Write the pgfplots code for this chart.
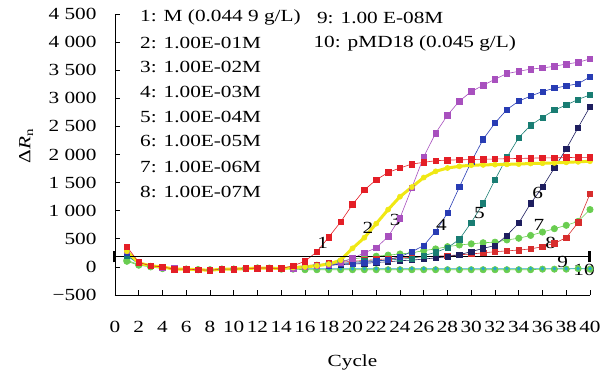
\documentclass[border=0pt]{standalone}
\usepackage{pgfplots}
\pgfplotsset{compat=1.18}
\usepackage{fontspec}
\setmainfont[FakeStretch=1.25]{Liberation Serif}
\definecolor{cRed}{RGB}{228,30,38}
\definecolor{cRedB}{RGB}{215,45,45}
\definecolor{cYel}{RGB}{240,232,20}
\definecolor{cPur}{RGB}{168,80,190}
\definecolor{cBlu}{RGB}{40,60,180}
\definecolor{cTeal}{RGB}{25,125,115}
\definecolor{cNavy}{RGB}{30,30,95}
\definecolor{cGrn}{RGB}{105,205,80}
\definecolor{cCyan}{RGB}{40,170,200}
\begin{document}
\begin{tikzpicture}[font=\fontsize{17bp}{20bp}\selectfont]
\useasboundingbox (-115bp,-77bp) rectangle (489bp,295bp);
\begin{axis}[
  scale only axis, width=475bp, height=281bp,
  xmin=0, xmax=40, ymin=-500, ymax=4500,
  axis lines=left, axis line style={-, line width=0.8bp},
  tick align=inside, major tick length=5bp,
  tick style={black, line width=0.8bp},
  /pgf/number format/assume math mode=true,
  xtick={0,2,...,40},
  ytick={-500,0,500,1000,1500,2000,2500,3000,3500,4000,4500},
  yticklabels={−500,0,500,1 000,1 500,2 000,2 500,3 000,3 500,4 000,4 500},
  xticklabel style={yshift=-23bp},
  yticklabel style={xshift=-15bp},
  xlabel={Cycle},
  xlabel style={at={(axis description cs:0.5,0)}, anchor=north, yshift=-56bp},
  clip=false,
  every axis plot/.append style={line width=0.6bp},
]
% 10 green
\addplot[cGrn, mark=*, mark size=3.2bp, mark options={fill=cGrn, draw=cGrn}] coordinates {
(1,100)(2,30)(3,0)(4,-30)(5,-40)(6,-40)(7,-50)(8,-50)(9,-40)(10,-40)(11,-30)(12,-20)(13,-30)(14,-40)(15,-40)(16,-50)(17,-50)(18,-50)(19,-50)(20,-50)(21,-50)(22,-50)(23,-50)(24,-50)(25,-50)(26,-50)(27,-50)(28,-50)(29,-50)(30,-50)(31,-50)(32,-50)(33,-50)(34,-50)(35,-50)(36,-40)(37,-40)(38,-40)(39,-30)(40,-40)};
% 9 cyan
\addplot[cCyan, mark=*, mark size=1.5bp] coordinates {
(1,200)(2,50)(3,10)(4,-20)(5,-40)(6,-40)(7,-50)(8,-50)(9,-40)(10,-40)(11,-30)(12,-20)(13,-20)(14,-30)(15,-30)(16,-30)(17,-30)(18,-30)(19,-30)(20,-30)(21,-30)(22,-30)(23,-30)(24,-30)(25,-30)(26,-30)(27,-30)(28,-30)(29,-30)(30,-30)(31,-30)(32,-30)(33,-30)(34,-30)(35,-30)(36,-30)(37,-30)(38,-30)(39,-30)(40,-30)};
% 7 green
\addplot[cGrn, mark=*, mark size=3.2bp, mark options={fill=cGrn, draw=cGrn}] coordinates {
(1,120)(2,40)(3,10)(4,-20)(5,-40)(6,-40)(7,-50)(8,-60)(9,-40)(10,-40)(11,-30)(12,-20)(13,-20)(14,-30)(15,-20)(16,0)(17,30)(18,60)(19,100)(20,140)(21,170)(22,190)(23,210)(24,230)(25,250)(26,290)(27,320)(28,360)(29,390)(30,410)(31,430)(32,440)(33,480)(34,510)(35,560)(36,620)(37,680)(38,740)(39,810)(40,1020)};
% 8 red
\addplot[cRedB, mark=square*, mark size=2.8bp, mark options={fill=cRedB, draw=cRedB}] coordinates {
(1,300)(2,70)(3,20)(4,0)(5,-40)(6,-40)(7,-50)(8,-60)(9,-40)(10,-40)(11,-30)(12,-20)(13,-20)(14,-30)(15,0)(16,20)(17,40)(18,60)(19,80)(20,100)(21,115)(22,130)(23,145)(24,160)(25,170)(26,180)(27,190)(28,200)(29,215)(30,230)(31,250)(32,270)(33,285)(34,300)(35,320)(36,360)(37,420)(38,520)(39,790)(40,1300)};
% 6 navy
\addplot[cNavy, mark=square*, mark size=2.6bp] coordinates {
(1,300)(2,70)(3,20)(4,0)(5,-40)(6,-40)(7,-50)(8,-60)(9,-40)(10,-40)(11,-30)(12,-20)(13,-20)(14,-30)(15,0)(16,0)(17,20)(18,30)(19,40)(20,50)(21,60)(22,80)(23,90)(24,110)(25,120)(26,140)(27,160)(28,180)(29,220)(30,270)(31,330)(32,380)(33,560)(34,780)(35,1130)(36,1420)(37,1760)(38,2100)(39,2480)(40,2850)};
% 5 teal
\addplot[cTeal, mark=square*, mark size=2.6bp] coordinates {
(1,200)(2,70)(3,20)(4,0)(5,-40)(6,-40)(7,-50)(8,-60)(9,-40)(10,-40)(11,-30)(12,-20)(13,-20)(14,-30)(15,0)(16,0)(17,20)(18,40)(19,60)(20,80)(21,100)(22,110)(23,120)(24,140)(25,150)(26,200)(27,260)(28,340)(29,490)(30,790)(31,1130)(32,1550)(33,1950)(34,2300)(35,2520)(36,2660)(37,2790)(38,2880)(39,2980)(40,3060)};
% 4 blue
\addplot[cBlu, mark=square*, mark size=2.6bp] coordinates {
(1,250)(2,70)(3,20)(4,0)(5,-40)(6,-40)(7,-50)(8,-60)(9,-40)(10,-40)(11,-30)(12,-20)(13,-20)(14,-30)(15,0)(16,0)(17,20)(18,30)(19,50)(20,60)(21,80)(22,100)(23,130)(24,180)(25,270)(26,380)(27,630)(28,960)(29,1420)(30,1870)(31,2270)(32,2560)(33,2800)(34,2950)(35,3040)(36,3120)(37,3180)(38,3220)(39,3260)(40,3380)};
% 3 purple
\addplot[cPur, mark=square*, mark size=2.8bp] coordinates {
(1,300)(2,80)(3,20)(4,-10)(5,-30)(6,-40)(7,-50)(8,-60)(9,-40)(10,-40)(11,-30)(12,-20)(13,-20)(14,-30)(15,-20)(16,0)(17,20)(18,40)(19,80)(20,150)(21,250)(22,340)(23,540)(24,870)(25,1410)(26,1960)(27,2380)(28,2700)(29,2950)(30,3120)(31,3230)(32,3340)(33,3440)(34,3480)(35,3520)(36,3540)(37,3570)(38,3610)(39,3640)(40,3700)};
% 2 yellow
\addplot[cYel, line width=3bp, mark=*, mark size=2.6bp, mark options={fill=cYel, draw=cYel, line width=0.5bp}] coordinates {
(1,280)(2,70)(3,20)(4,0)(5,-40)(6,-40)(7,-50)(8,-60)(9,-40)(10,-40)(11,-30)(12,-20)(13,-20)(14,-30)(15,-10)(16,0)(17,20)(18,50)(19,120)(20,330)(21,520)(22,770)(23,1020)(24,1250)(25,1420)(26,1590)(27,1700)(28,1760)(29,1790)(30,1810)(31,1815)(32,1820)(33,1825)(34,1830)(35,1840)(36,1845)(37,1850)(38,1860)(39,1870)(40,1880)};
% 1 red
\addplot[cRed, mark=square*, mark size=2.8bp, mark options={fill=cRed, draw=cRed}] coordinates {
(1,360)(2,80)(3,20)(4,0)(5,-40)(6,-40)(7,-50)(8,-60)(9,-40)(10,-40)(11,-30)(12,-20)(13,-20)(14,-30)(15,20)(16,100)(17,270)(18,530)(19,800)(20,1110)(21,1370)(22,1550)(23,1680)(24,1760)(25,1830)(26,1860)(27,1890)(28,1900)(29,1905)(30,1910)(31,1915)(32,1920)(33,1925)(34,1930)(35,1935)(36,1940)(37,1940)(38,1945)(39,1950)(40,1950)};
% threshold
\addplot[black, line width=1bp] coordinates {(0,180)(40,180)};
\addplot[black, line width=3bp] coordinates {(0,80)(0,290)};
\addplot[black, line width=3bp] coordinates {(40,80)(40,290)};
% y label
\node[rotate=90] at (axis description cs:-0.187,0.53) {Δ\textit{R}\textsubscript{n}};
% curve numbers
\node at (axis cs:17.5,430) {1};
\node at (axis cs:21.3,700) {2};
\node at (axis cs:23.6,840) {3};
\node at (axis cs:27.5,750) {4};
\node at (axis cs:30.7,950) {5};
\node at (axis cs:35.6,1320) {6};
\node at (axis cs:35.7,750) {7};
\node at (axis cs:36.7,430) {8};
\node at (axis cs:37.7,90) {9};
\node at (axis cs:39.5,-50) {10};
% legend text
\begin{scope}[every node/.style={anchor=west, inner sep=0pt}]
\node at (axis cs:2.1,4430) {1: M (0.044 9 g/L)};
\node at (axis cs:2.1,3983) {2: 1.00E-01M};
\node at (axis cs:2.1,3554) {3: 1.00E-02M};
\node at (axis cs:2.1,3108) {4: 1.00E-03M};
\node at (axis cs:2.1,2661) {5: 1.00E-04M};
\node at (axis cs:2.1,2232) {6: 1.00E-05M};
\node at (axis cs:2.1,1786) {7: 1.00E-06M};
\node at (axis cs:2.1,1339) {8: 1.00E-07M};
\node at (axis cs:17.0,4430) {9: 1.00 E-08M};
\node at (axis cs:16.7,3983) {10: pMD18 (0.045 g/L)};
\end{scope}
\end{axis}
\end{tikzpicture}
\end{document}
